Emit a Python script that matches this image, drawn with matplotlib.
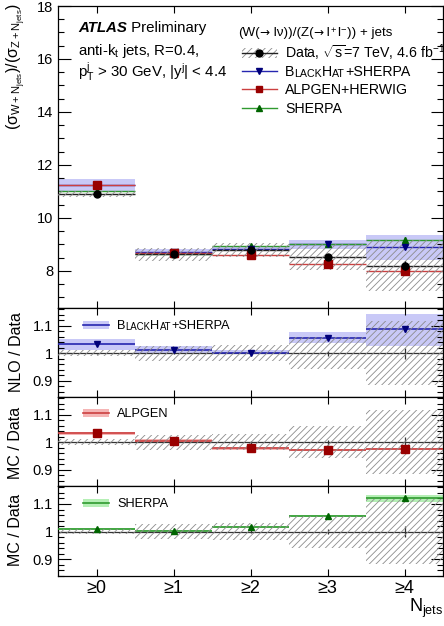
import numpy as np
import matplotlib
matplotlib.use("Agg")
import matplotlib.pyplot as plt
from matplotlib.patches import Rectangle
from matplotlib.lines import Line2D
from matplotlib.ticker import MultipleLocator

plt.rcParams['font.family'] = ['Liberation Sans', 'DejaVu Sans']
plt.rcParams['mathtext.fontset'] = 'custom'
plt.rcParams['mathtext.rm'] = 'Liberation Sans'
plt.rcParams['mathtext.it'] = 'Liberation Sans:italic'
plt.rcParams['mathtext.bf'] = 'Liberation Sans:bold'
plt.rcParams['mathtext.sf'] = 'Liberation Sans'
plt.rcParams['mathtext.default'] = 'regular'
plt.rcParams['hatch.linewidth'] = 0.6

# ---------------- data ----------------
categories = ["≥0", "≥1", "≥2", "≥3", "≥4"]
data_vals = [10.91, 8.62, 8.80, 8.52, 8.20]
data_stat_rel = [0.002, 0.003, 0.005, 0.009, 0.02]
data_syst_rel = [0.010, 0.027, 0.030, 0.058, 0.118]

blackhat_ratio = [1.032, 1.010, 1.002, 1.056, 1.087]
blackhat_lo = [1.010, 0.999, 0.997, 1.036, 1.027]
blackhat_hi = [1.050, 1.025, 1.010, 1.078, 1.142]
blackhat_stat = [0.003, 0.003, 0.003, 0.006, 0.010]

alpgen_ratio = [1.032, 1.006, 0.977, 0.970, 0.974]
alpgen_unc = [0.004, 0.004, 0.004, 0.004, 0.004]
alpgen_stat = [0.003, 0.003, 0.003, 0.004, 0.006]

sherpa_ratio = [1.010, 1.004, 1.016, 1.057, 1.120]
sherpa_unc = [0.003, 0.003, 0.003, 0.004, 0.014]
sherpa_stat = [0.003, 0.003, 0.003, 0.005, 0.010]

# ---------------- styles ----------------
W, H = 444, 626
BLUE_L, BLUE_M, BLUE_B = '#2626b0', '#00007a', '#c9c9f7'
RED_L, RED_M, RED_B = '#cc4040', '#990000', '#f5b5b5'
GRN_L, GRN_M, GRN_B = '#2f9a2f', '#006400', '#b5efb5'
HATCH_C = '#8c8c8c'

x = np.arange(len(categories))
data = np.array(data_vals)

fig = plt.figure(figsize=(W / 100, H / 100), dpi=100)

def pos(top, bottom, left=58, right=443):
    return [left / W, 1 - bottom / H, (right - left) / W, (bottom - top) / H]

ax0 = fig.add_axes(pos(6, 308))
ax1 = fig.add_axes(pos(308, 397))
ax2 = fig.add_axes(pos(397, 486))
ax3 = fig.add_axes(pos(486, 576))

def style(ax, ymaj, ymin_, ylen=9):
    ax.set_xlim(-0.5, 4.5)
    ax.set_xticks(x)
    ax.yaxis.set_major_locator(MultipleLocator(ymaj))
    ax.yaxis.set_minor_locator(MultipleLocator(ymin_))
    ax.tick_params(axis='y', which='major', direction='in', length=ylen, width=0.8,
                   right=True, labelsize=10.5, pad=3.5)
    ax.tick_params(axis='y', which='minor', direction='in', length=ylen / 2, width=0.8, right=True)
    ax.tick_params(axis='x', which='major', direction='in', length=5, width=0.8, top=True,
                   labelsize=13, pad=3)
    ax.tick_params(axis='x', which='minor', bottom=False, top=False)
    for s in ax.spines.values():
        s.set_linewidth(0.9)

def hatch_band(ax, lo, hi, z=4):
    for i in range(len(x)):
        ax.add_patch(Rectangle((x[i] - 0.5, lo[i]), 1.0, hi[i] - lo[i], facecolor='none',
                               edgecolor=HATCH_C, hatch='/////', linewidth=0, zorder=z))

def fill_band(ax, lo, hi, color, z=1):
    for i in range(len(x)):
        ax.add_patch(Rectangle((x[i] - 0.5, lo[i]), 1.0, hi[i] - lo[i], facecolor=color,
                               edgecolor='none', zorder=z))

# ---------------- top panel ----------------
style(ax0, 2, 0.5, ylen=9)
ax0.set_ylim(6.6, 18.0)
ax0.tick_params(axis='x', labelbottom=False)

bh = np.array(blackhat_ratio) * data
al = np.array(alpgen_ratio) * data
sh = np.array(sherpa_ratio) * data
fill_band(ax0, np.array(blackhat_lo) * data, np.array(blackhat_hi) * data, BLUE_B, z=1)
ax0.hlines(bh, x - 0.5, x + 0.5, color=BLUE_L, lw=1.0, zorder=2)
ax0.hlines(sh, x - 0.5, x + 0.5, color=GRN_L, lw=1.0, zorder=2)
ax0.hlines(al, x - 0.5, x + 0.5, color=RED_L, lw=1.0, zorder=2)
ax0.hlines(data, x - 0.5, x + 0.5, color='#222222', lw=1.0, zorder=3)
hatch_band(ax0, data * (1 - np.array(data_syst_rel)), data * (1 + np.array(data_syst_rel)))
ax0.errorbar(x, sh, yerr=np.array(sherpa_stat) * data, fmt='^', color=GRN_M, ms=5, lw=1, zorder=5)
ax0.errorbar(x, bh, yerr=np.array(blackhat_stat) * data, fmt='v', color=BLUE_M, ms=5, lw=1, zorder=5)
ax0.errorbar(x, al, yerr=np.array(alpgen_stat) * data, fmt='s', color=RED_M, ms=5.5, lw=1, zorder=6)
ax0.errorbar(x, data, yerr=np.array(data_stat_rel) * data, fmt='o', color='black', ms=5, lw=1, zorder=7)

# ---------------- ratio panels ----------------
def ratio_panel(ax, ratio, lo, hi, stat, lc, mc, bc, marker, ms):
    style(ax, 0.1, 0.02, ylen=9)
    ax.set_ylim(0.84, 1.165)
    ax.set_yticks([0.9, 1.0, 1.1])
    ax.set_yticklabels(['0.9', '1', '1.1'])
    fill_band(ax, lo, hi, bc, z=1)
    ax.hlines(ratio, x - 0.5, x + 0.5, color=lc, lw=1.2, zorder=3)
    ax.axhline(1.0, color='#333333', lw=0.9, zorder=2)
    hatch_band(ax, 1 - np.array(data_syst_rel), 1 + np.array(data_syst_rel))
    ax.vlines(x, 1 - np.array(data_stat_rel), 1 + np.array(data_stat_rel), color='#333333', lw=0.9, zorder=2)
    ax.errorbar(x, ratio, yerr=stat, fmt=marker, color=mc, ms=ms, lw=1, zorder=6)

ratio_panel(ax1, np.array(blackhat_ratio), np.array(blackhat_lo), np.array(blackhat_hi),
            blackhat_stat, BLUE_L, BLUE_M, BLUE_B, 'v', 5)
ax1.tick_params(axis='x', labelbottom=False)
ar = np.array(alpgen_ratio); au = np.array(alpgen_unc)
ratio_panel(ax2, ar, ar - au, ar + au, alpgen_stat, RED_L, RED_M, RED_B, 's', 5.5)
ax2.tick_params(axis='x', labelbottom=False)
sr = np.array(sherpa_ratio); su = np.array(sherpa_unc)
ratio_panel(ax3, sr, sr - su, sr + su, sherpa_stat, GRN_L, GRN_M, GRN_B, '^', 5)
ax3.set_xticklabels(categories)

# ---------------- text helpers ----------------
def fp(px, py):
    return (px / W, 1 - py / H)

def chain(parts, px, py, fs):
    """parts: list of (text, scale, kwargs)"""
    prev = None
    for txt, sc, kw in parts:
        if prev is None:
            prev = fig.text(*fp(px, py), txt, fontsize=fs * sc, va='baseline', ha='left', **kw)
        else:
            prev = fig.add_artist(matplotlib.text.Annotation(
                txt, xy=(1, 0), xycoords=prev, fontsize=fs * sc, va='bottom', ha='left',
                annotation_clip=False, **kw))
    return prev

# ATLAS label
chain([("ATLAS", 1, dict(fontweight='bold', fontstyle='italic')),
       (" Preliminary", 1, {})], 78, 32, 10.8)
fig.text(*fp(78, 55), r"anti-k$_{t}$ jets, R=0.4,", fontsize=10.8, va='baseline')
fig.text(*fp(78, 78), r"p$_{T}^{j}$ > 30 GeV, |y$^{j}$| < 4.4", fontsize=10.8, va='baseline')

# main legend header
DV = dict(family='DejaVu Sans')
chain([("(W(", 1, {}), ("\u2192", 0.9, DV), (" l\u03bd))/(Z(", 1, {}), ("\u2192", 0.9, DV),
       (" l", 1, {}), (r"$^{+}$", 1, {}), ("l", 1, {}), (r"$^{-}$", 1, {}), (")) + jets", 1, {})],
      238, 36, 9.6)
tr = fig.transFigure
# data entry
y_d = 53
x0f, y0f = fp(242, y_d + 5)
fig.add_artist(Rectangle((x0f, y0f), 35 / W, 10 / H, transform=tr, facecolor='none',
                         edgecolor=HATCH_C, hatch='/////', linewidth=0))
fig.add_artist(Line2D([242 / W, 277 / W], [1 - y_d / H] * 2, transform=tr, color='#222222', lw=1))
fig.add_artist(Line2D([259 / W], [1 - y_d / H], transform=tr, marker='o', color='black', ms=5))
fig.text(*fp(285, y_d + 5), r"Data, $\sqrt{s}$=7 TeV, 4.6 fb$^{-1}$", fontsize=10.2, va='baseline')

entries = [(71, BLUE_L, BLUE_M, 'v'), (89, RED_L, RED_M, 's'), (108, GRN_L, GRN_M, '^')]
for yy, lc, mc, mk in entries:
    fig.add_artist(Line2D([242 / W, 277 / W], [1 - yy / H] * 2, transform=tr, color=lc, lw=1))
    fig.add_artist(Line2D([259 / W], [1 - yy / H], transform=tr, marker=mk, color=mc, ms=5, lw=0))

fs_l = 10.2
chain([("B", 1, {}), ("LACK", 0.75, {}), ("H", 1, {}), ("AT", 0.75, {}), ("+SHERPA", 1, {})],
      285, 76, fs_l)
fig.text(*fp(285, 94), "ALPGEN+HERWIG", fontsize=fs_l, va='baseline')
fig.text(*fp(285, 113), "SHERPA", fontsize=fs_l, va='baseline')

# ratio legends
def ratio_legend(py, lc, bc):
    fig.add_artist(Rectangle(fp(83, py + 4), 26 / W, 8 / H, transform=tr, facecolor=bc, edgecolor='none'))
    fig.add_artist(Line2D([83 / W, 109 / W], [1 - py / H] * 2, transform=tr, color=lc, lw=1.2))

ratio_legend(325, BLUE_L, BLUE_B)
ratio_legend(413, RED_L, RED_B)
ratio_legend(503, GRN_L, GRN_B)
chain([("B", 1, {}), ("LACK", 0.75, {}), ("H", 1, {}), ("AT", 0.75, {}), ("+SHERPA", 1, {})],
      117, 329, 9.2)
fig.text(*fp(117, 417), "ALPGEN", fontsize=9.2, va='baseline')
fig.text(*fp(117, 507), "SHERPA", fontsize=9.2, va='baseline')

# axis titles
fig.text(16 / W, 1 - 3 / H, r"$(\sigma_{W+N_{jets}})/(\sigma_{Z+N_{jets}})$", rotation=90,
         ha='center', va='top', fontsize=11.5)
fig.text(17 / W, 1 - 352 / H, "NLO / Data", rotation=90, ha='center', va='center', fontsize=11.5)
fig.text(15 / W, 1 - 443 / H, "MC / Data", rotation=90, ha='center', va='center', fontsize=11.5)
fig.text(15 / W, 1 - 530 / H, "MC / Data", rotation=90, ha='center', va='center', fontsize=11.5)
fig.text(443 / W, 1 - 612 / H, r"N$_{jets}$", ha='right', va='baseline', fontsize=13)

fig.savefig("out.png", dpi=100)
